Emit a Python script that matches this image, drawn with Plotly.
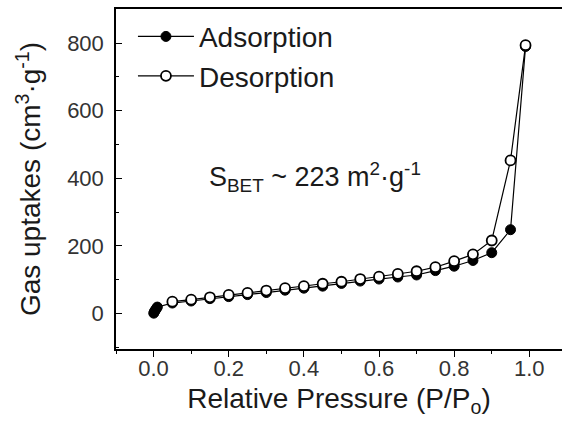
import plotly.graph_objects as go

# Adsorption branch
ads_p = [0.0005, 0.002, 0.004, 0.007, 0.010, 0.05, 0.10, 0.15, 0.20, 0.25, 0.30, 0.35,
         0.40, 0.45, 0.50, 0.55, 0.60, 0.65, 0.70, 0.75, 0.80, 0.85, 0.90, 0.95, 0.99]
ads_v = [1, 5, 9, 14, 19, 31, 37, 44, 50, 56, 62, 69,
         75, 81, 89, 96, 102, 108, 114, 127, 140, 157, 180, 248, 790]

# Desorption branch
des_p = [0.99, 0.95, 0.90, 0.85, 0.80, 0.75, 0.70, 0.65, 0.60, 0.55, 0.50, 0.45,
         0.40, 0.35, 0.30, 0.25, 0.20, 0.15, 0.10, 0.05]
des_v = [794, 453, 216, 175, 155, 137, 125, 117, 109, 102, 94, 88,
         81, 75, 68, 61, 55, 48, 41, 35]

x_ticks = [0.0, 0.2, 0.4, 0.6, 0.8, 1.0]
x_ticklabels = ["0.0", "0.2", "0.4", "0.6", "0.8", "1.0"]
y_ticks = [0, 200, 400, 600, 800]
y_ticklabels = ["0", "200", "400", "600", "800"]

FONT = "Liberation Sans, Arial, sans-serif"
INK = "#1a1a1a"

fig = go.Figure()
fig.add_trace(go.Scatter(
    x=ads_p, y=ads_v, mode="lines+markers", name="Adsorption",
    line=dict(color="black", width=1.2),
    marker=dict(symbol="circle", size=10, color="black", line=dict(color="black", width=1)),
))
fig.add_trace(go.Scatter(
    x=des_p, y=des_v, mode="lines+markers", name="Desorption",
    line=dict(color="black", width=1.2),
    marker=dict(symbol="circle", size=10, color="white", line=dict(color="black", width=1.8)),
))

fig.add_annotation(
    text="S<sub>BET</sub> ~ 223 m<sup>2</sup>·g<sup>-1</sup>",
    xref="paper", yref="paper", x=0.205, y=0.505, xanchor="left", yanchor="middle",
    showarrow=False, font=dict(family=FONT, size=27, color=INK),
)

fig.update_layout(
    width=562, height=430,
    margin=dict(l=116, r=0, t=9, b=81),
    paper_bgcolor="white", plot_bgcolor="white",
    font=dict(family=FONT, color=INK),
    showlegend=True,
    legend=dict(
        x=0.038, y=0.992, xanchor="left", yanchor="top",
        bgcolor="rgba(0,0,0,0)", font=dict(family=FONT, size=28, color=INK),
        itemwidth=56, tracegroupgap=0,
    ),
    xaxis=dict(
        range=[-0.1, 1.087], showgrid=False, zeroline=False,
        showline=True, linecolor="black", linewidth=1.5, mirror=True,
        ticks="outside", ticklen=6, tickwidth=1.2, tickcolor="black",
        tickvals=x_ticks, ticktext=x_ticklabels,
        tickfont=dict(family=FONT, size=22, color="#333"),
        ticklabelstandoff=-7,
        minor=dict(ticks="outside", ticklen=3, tickwidth=1, tickcolor="black", dtick=0.1, showgrid=False),
        title=dict(text="Relative Pressure (P/P<sub>o</sub>)", font=dict(family=FONT, size=28, color=INK), standoff=8),
    ),
    yaxis=dict(
        range=[-105, 901], showgrid=False, zeroline=False,
        showline=True, linecolor="black", linewidth=1.5, mirror=False,
        ticks="inside", ticklen=6, tickwidth=1.2, tickcolor="black",
        tickvals=y_ticks, ticktext=y_ticklabels,
        tickfont=dict(family=FONT, size=22, color="#333"),
        ticklabelstandoff=6,
        minor=dict(ticks="inside", ticklen=3, tickwidth=1, tickcolor="black", dtick=100, showgrid=False),
        title=dict(text="Gas uptakes (cm<sup>3</sup>·g<sup>-1</sup>)", font=dict(family=FONT, size=28, color=INK), standoff=18),
    ),
)

fig.write_html("out.html")
